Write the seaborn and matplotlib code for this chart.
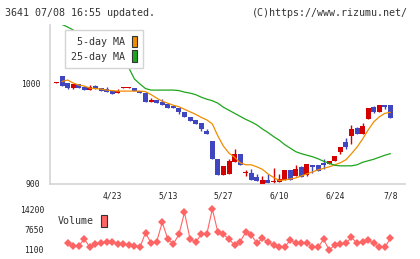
import numpy as np
import pandas as pd
import seaborn as sns
import matplotlib.pyplot as plt
from matplotlib.patches import Patch

# daily candles, 4/9 .. 7/8 (61 trading days)
opens = [1000.5, 1007, 1000, 995, 999, 996, 993, 997, 995, 994,
         992, 990, 995, 995, 995, 992.5, 990.5, 981.5, 983, 981,
         979, 977, 975.5, 971.5, 966, 963.5, 960, 952.5, 942.5, 925,
         908.5, 910, 922, 929.5, 910.5, 910.5, 907, 900, 904, 901.5,
         901.5, 903.5, 914, 908, 917, 909, 918.5, 919, 921, 920,
         923, 932, 942, 948, 955.5, 949.5, 964.5, 976, 971, 978, 978]
closes = [1001, 997.5, 995.5, 999, 995.5, 993, 996, 994.5, 992, 991,
          989.5, 992, 995.5, 995.5, 992.5, 990, 981.5, 983, 980, 978,
          975.5, 975, 971.5, 966.5, 962.5, 959.5, 954.5, 950, 925, 909,
          918, 923, 929.5, 919, 911, 904, 903, 904, 901, 902.5,
          904.5, 914, 904, 915, 907, 919.5, 916.5, 913, 919, 923,
          927.5, 937, 936.5, 954.5, 949.5, 957.5, 975, 971, 978, 976, 965.5]
highs = [1001, 1007, 1000, 999, 999, 997, 998, 998, 995, 996,
         992, 994, 996.5, 996.5, 995, 992.5, 991, 985.5, 983, 984,
         979, 978, 975.5, 971.5, 966, 963.5, 960, 954.5, 942.5, 925,
         918, 924.5, 934.5, 929.5, 914, 914.5, 910, 908, 910, 915.5,
         910, 914, 914, 919, 918, 919.5, 918.5, 919, 925, 923,
         927.5, 937, 946, 958.5, 956.5, 960, 975, 977, 978, 978, 978]
lows = [1000.5, 997.5, 994, 994.5, 995.5, 993, 993, 994.5, 992, 991,
        989.5, 990, 995, 995, 992.5, 990, 981.5, 981.5, 980, 978,
        975.5, 975, 969, 966.5, 962.5, 959.5, 952.5, 950, 925, 909,
        908.5, 910, 922, 919, 907.5, 904, 903, 900, 900, 900,
        901.5, 903.5, 904, 908, 907, 908, 911, 913, 914.5, 920,
        923, 929.5, 934.5, 939.5, 949.5, 949.5, 964.5, 970, 971, 974.5, 965.5]

ma5 = [np.nan, 1001.5, 1003, 1000, 998, 997, 995, 994.5, 994, 993,
       992.5, 992, 992, 992, 992, 992, 991.5, 988.5, 985, 982,
       980, 978, 976.5, 974, 971.5, 969, 966, 963.5, 959.5, 947.5,
       937.5, 930.5, 926.5, 921, 919, 919, 917, 914.5, 910, 906.5,
       903.5, 904, 905, 906, 908, 910, 912, 914, 915.5, 917,
       919, 921, 924, 930, 936.5, 944.5, 953.5, 961.5, 966.5, 970, 971]
# 25-day line: the part behind the legend box is an estimate
ma25 = [np.nan, 1058, 1055.5, 1052.5, 1049, 1045, 1041.5, 1037.5, 1034, 1030.5,
        1026.5, 1023, 1019.5, 1015, 1004, 999, 994.5, 993, 993, 993,
        993, 993, 992.5, 991, 990, 988.5, 986, 984, 982.5, 980,
        976, 973, 970, 967, 964, 961.5, 958.5, 954.5, 951, 947,
        943.5, 939, 935.5, 932, 930, 928.5, 927, 925, 922.5, 920.5,
        918.5, 918, 918, 918, 919, 921.5, 923, 924.5, 926.5, 928.5, 930]

# volume starts on the third day
volume = [3270, 2180, 2180, 4470, 1750, 2840, 3050, 3600, 3600, 2840,
          2840, 2510, 2180, 1750, 6550, 3050, 3600, 9930, 4470, 2840,
          6000, 13200, 4470, 3380, 6000, 6000, 14300, 6660, 6000, 4360,
          2510, 3600, 6660, 5780, 3050, 4690, 3380, 2510, 1750, 1750,
          4150, 3050, 3050, 3270, 1750, 1750, 4360, 870, 2510, 2840,
          3050, 5020, 3050, 3600, 4150, 3050, 1960, 1750, 4690]
vol_start = 2

date_labels = ['4/23', '5/13', '5/27', '6/10', '6/24', '7/8']
date_pos = [10, 20, 30, 40, 50, 60]
price_ticks = [900, 1000]
vol_ticks = [1100, 7650, 14200]

UP = '#d40000'
DOWN = '#4046c0'
ORANGE = '#f08c00'
GREEN = '#1ea51e'
VOLC = '#ff6464'
GRID = '#d4d4d4'

df = pd.DataFrame({'open': opens, 'high': highs, 'low': lows, 'close': closes,
                   'ma5': ma5, 'ma25': ma25})
df['day'] = np.arange(len(df))
vol = pd.DataFrame({'day': np.arange(vol_start, vol_start + len(volume)), 'volume': volume})

sns.set_style('white')
plt.rcParams['font.family'] = ['DejaVu Sans Mono', 'DejaVu Sans']

fig = plt.figure(figsize=(4.2, 2.59), dpi=100)
ax = fig.add_axes([0.119, 0.2896, 0.845, 0.614])
axv = fig.add_axes([0.119, 0.0232, 0.845, 0.193])

xlim = (-1.17, 62.6)

# candles
col = np.where(df['close'] >= df['open'], UP, DOWN)
body_lo = np.minimum(df['open'], df['close'])
body_h = np.maximum(np.abs(df['close'] - df['open']), 1.0)
ax.vlines(df['day'], df['low'], df['high'], colors=col, linewidth=1, zorder=2)
ax.bar(df['day'], body_h, bottom=body_lo, width=0.9, color=col, linewidth=0, zorder=3)

sns.lineplot(data=df, x='day', y='ma5', ax=ax, color=ORANGE, linewidth=0.9, zorder=4)
sns.lineplot(data=df, x='day', y='ma25', ax=ax, color=GREEN, linewidth=0.9, zorder=4)

ax.set_xlim(*xlim)
ax.set_ylim(900, 1057.5)
ax.set_xticks(np.linspace(xlim[0], xlim[1], 12))
ax.set_xticklabels([])
ax.set_yticks(price_ticks)
ax.set_yticklabels([str(t) for t in price_ticks], fontsize=5.8, color='#222222')
ax.tick_params(axis='y', length=3, width=1, color=GRID, pad=4)
ax.tick_params(axis='x', direction='inout', length=5, width=1, color=GRID)
ax.set_xlabel('')
ax.set_ylabel('')
sns.despine(ax=ax, top=True, right=True)
for s in ['left', 'bottom']:
    ax.spines[s].set_color(GRID)
    ax.spines[s].set_linewidth(1.2)

handles = [Patch(facecolor=ORANGE, edgecolor='#333333', linewidth=0.8),
           Patch(facecolor=GREEN, edgecolor='#333333', linewidth=0.8)]
leg = ax.legend(handles, [' 5-day MA', '25-day MA'], loc='upper left',
                bbox_to_anchor=(0.042, 0.969), borderaxespad=0, markerfirst=False,
                fontsize=7.2, handlelength=0.56, handleheight=1.4, handletextpad=0.7,
                labelspacing=0.3, borderpad=0.6, fancybox=False, framealpha=1)
leg.get_frame().set_edgecolor(GRID)
leg.get_frame().set_linewidth(1.0)
for t in leg.get_texts():
    t.set_color('#333333')
leg.set_zorder(10)

# volume panel
sns.lineplot(data=vol, x='day', y='volume', ax=axv, color=VOLC, linewidth=0.8,
             marker='D', markersize=4.2, markeredgewidth=0, markerfacecolor=VOLC)
axv.set_xlim(*xlim)
axv.set_ylim(-112, 16263)
axv.set_yticks(vol_ticks)
axv.set_yticklabels([str(t) for t in vol_ticks], fontsize=5.8, color='#222222')
axv.xaxis.tick_top()
axv.set_xticks(date_pos)
axv.set_xticklabels(date_labels, fontsize=5.8, color='#222222')
axv.tick_params(axis='both', length=0)
axv.tick_params(axis='y', pad=4.3)
axv.tick_params(axis='x', pad=1.8)
axv.set_xlabel('')
axv.set_ylabel('')
for s in axv.spines.values():
    s.set_visible(False)
vleg = axv.legend([Patch(facecolor=VOLC, edgecolor='#333333', linewidth=0.8)], ['Volume'],
                  loc='center left', bbox_to_anchor=(0.0225, 0.64), borderaxespad=0,
                  borderpad=0, markerfirst=False, frameon=False, fontsize=7.2,
                  handlelength=0.56, handleheight=1.5, handletextpad=0.7)
for t in vleg.get_texts():
    t.set_color('#333333')

fig.text(5 / 420, 1 - 12.5 / 259, '3641 07/08 16:55 updated.', fontsize=7.2,
         color='#333333', va='center', ha='left')
fig.text(408 / 420, 1 - 12.5 / 259, '(C)https://www.rizumu.net/', fontsize=7.2,
         color='#333333', va='center', ha='right')

fig.savefig('out.png', dpi=100, facecolor='white')
plt.close(fig)
